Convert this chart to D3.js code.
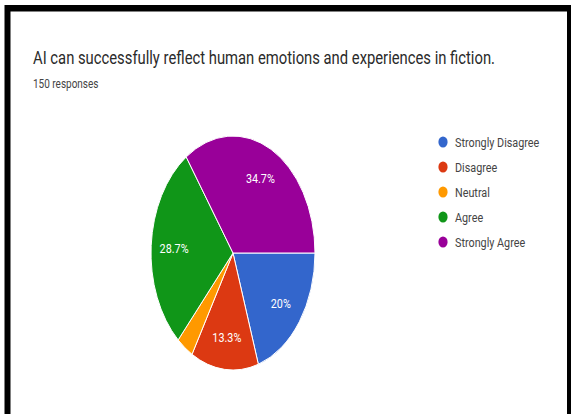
<!DOCTYPE html>
<html>
<head>
<meta charset="utf-8">
<script src="https://cdn.jsdelivr.net/npm/d3@7"></script>
<style>
  html, body { margin: 0; padding: 0; background: #fff; }
  svg { display: block; }
  text { font-family: Roboto, "Liberation Sans", Arial, sans-serif; }
</style>
</head>
<body>
<script>
// ---- data ----
const title = "AI can successfully reflect human emotions and experiences in fiction.";
const subtitle = "150 responses";
const categories = ["Strongly Disagree", "Disagree", "Neutral", "Agree", "Strongly Agree"];
const counts = [30, 20, 5, 43, 52];
const colors = ["#3366cc", "#dc3912", "#ff9900", "#109618", "#990099"];

// ---- layout ----
const W = 571, H = 414;
const cx = 233, cy = 253, rx = 82, ry = 117, R = 100;
const titleWidth = 462;

const svg = d3.select("body").append("svg").attr("width", W).attr("height", H);

// frame
svg.append("rect").attr("x", 4.5).attr("y", 5).attr("width", W).attr("height", H).attr("fill", "#000");
svg.append("rect").attr("x", 10.5).attr("y", 11.5).attr("width", 556.5).attr("height", H).attr("fill", "#fff");

// helper for horizontally condensed text
let sx = 1;
function addText(x, y, str, size, fill, anchor) {
  const g = svg.append("g").attr("transform", `translate(${x},${y}) scale(${sx},1)`);
  return g.append("text").attr("font-size", size).attr("fill", fill)
    .attr("text-anchor", anchor || "start").text(str);
}

// title measuring for squish factor
const tt = addText(33, 64, title, 18.5, "#2a2a2a");
const tw = tt.node().getComputedTextLength();
sx = titleWidth / tw;
tt.node().parentNode.setAttribute("transform", `translate(33,64) scale(${sx},1)`);

addText(33, 88, subtitle, 12.5, "#444");

// pie
const total = d3.sum(counts);
const pie = d3.pie().sort(null).value(d => d)
  .startAngle(Math.PI / 2).endAngle(Math.PI / 2 + 2 * Math.PI);
const arcs = pie(counts);
const arc = d3.arc().innerRadius(0).outerRadius(R);
const labelArc = d3.arc().innerRadius(R * 0.72).outerRadius(R * 0.72);

const pg = svg.append("g").attr("transform", `translate(${cx},${cy}) scale(${rx / R},${ry / R})`);
pg.selectAll("path").data(arcs).join("path")
  .attr("d", arc)
  .attr("fill", (d, i) => colors[i])
  .attr("stroke", "#fff")
  .attr("stroke-width", 1)
  .attr("vector-effect", "non-scaling-stroke");

arcs.forEach((d, i) => {
  const frac = d.data / total;
  if (frac < 0.05) return;
  const c = labelArc.centroid(d);
  const x = cx + c[0] * rx / R, y = cy + c[1] * ry / R;
  const lbl = (+(frac * 100).toFixed(1)) + "%";
  addText(x, y + 5, lbl, 13.5, "#fff", "middle");
});

// legend
const legX = 443, legY = 142, legStep = 25;
categories.forEach((c, i) => {
  const y = legY + i * legStep;
  svg.append("ellipse").attr("cx", legX).attr("cy", y).attr("rx", 4.6).attr("ry", 5.6).attr("fill", colors[i]);
  addText(455, y + 4.5, c, 13.5, "#444");
});
</script>
</body>
</html>
